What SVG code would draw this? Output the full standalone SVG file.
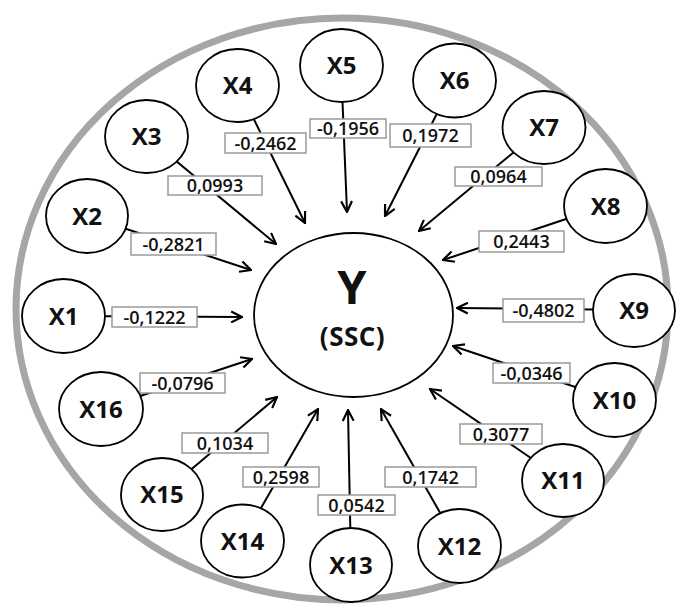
<svg xmlns="http://www.w3.org/2000/svg" width="681" height="608" viewBox="0 0 681 608">
<style>
.node{fill:#fff;stroke:#000;stroke-width:1.8}
.nt{font-family:"Open Sans","Liberation Sans",sans-serif;font-weight:700;font-size:24px;text-anchor:middle;fill:#111}
.edge{stroke:#000;stroke-width:2;fill:none;marker-end:url(#arr)}
.lb{fill:#fff;stroke:#9a9a9a;stroke-width:1.5}
.lt{font-family:"Open Sans","Liberation Sans",sans-serif;font-weight:600;font-size:18px;text-anchor:middle;fill:#111}
</style>
<defs>
<marker id="arr" viewBox="0 0 12 12" refX="11" refY="6" markerWidth="13" markerHeight="13" markerUnits="userSpaceOnUse" orient="auto">
<path d="M1,1 L11,6 L1,11" fill="none" stroke="#000" stroke-width="2"/>
</marker>
</defs>
<rect width="681" height="608" fill="#fff"/>
<ellipse cx="342" cy="309" rx="326" ry="291" fill="none" stroke="#a6a6a6" stroke-width="7"/>
<g id="connectors">
<line class="edge" x1="63" y1="316" x2="242" y2="317"/>
<line class="edge" x1="87" y1="216" x2="251" y2="270"/>
<line class="edge" x1="146" y1="136" x2="276" y2="244"/>
<line class="edge" x1="237" y1="85" x2="305" y2="223"/>
<line class="edge" x1="341" y1="65" x2="347" y2="212"/>
<line class="edge" x1="454" y1="80" x2="385" y2="216"/>
<line class="edge" x1="544" y1="127" x2="419" y2="231"/>
<line class="edge" x1="605" y1="206" x2="443" y2="260"/>
<line class="edge" x1="634" y1="310" x2="457" y2="308"/>
<line class="edge" x1="614" y1="400" x2="453" y2="346"/>
<line class="edge" x1="563" y1="480" x2="430" y2="389"/>
<line class="edge" x1="459" y1="546" x2="381" y2="409"/>
<line class="edge" x1="351" y1="565" x2="348" y2="410"/>
<line class="edge" x1="242" y1="541" x2="318" y2="409"/>
<line class="edge" x1="162" y1="494" x2="277" y2="397"/>
<line class="edge" x1="101" y1="409" x2="252" y2="359"/>
<g id="labels">
<rect class="lb" x="112" y="307" width="85" height="20"/><text class="lt" x="154.5" y="323.5">-0,1222</text>
<rect class="lb" x="131" y="233" width="85" height="22"/><text class="lt" x="173.5" y="250.5">-0,2821</text>
<rect class="lb" x="168" y="176" width="94" height="19"/><text class="lt" x="215" y="192">0,0993</text>
<rect class="lb" x="225" y="133" width="81" height="20"/><text class="lt" x="265.5" y="149.5">-0,2462</text>
<rect class="lb" x="310" y="119" width="76" height="19"/><text class="lt" x="348" y="135">-0,1956</text>
<rect class="lb" x="390" y="124" width="81" height="23"/><text class="lt" x="430.5" y="141.5">0,1972</text>
<rect class="lb" x="455" y="167" width="87" height="19"/><text class="lt" x="498.5" y="183">0,0964</text>
<rect class="lb" x="479" y="231" width="85" height="21"/><text class="lt" x="521.5" y="248">0,2443</text>
<rect class="lb" x="503" y="299" width="81" height="23"/><text class="lt" x="543.5" y="316.5">-0,4802</text>
<rect class="lb" x="493" y="363" width="77" height="20"/><text class="lt" x="531.5" y="379.5">-0,0346</text>
<rect class="lb" x="460" y="424" width="82" height="20"/><text class="lt" x="501" y="440.5">0,3077</text>
<rect class="lb" x="385" y="467" width="91" height="20"/><text class="lt" x="430.5" y="483.5">0,1742</text>
<rect class="lb" x="318" y="495" width="77" height="20"/><text class="lt" x="356.5" y="511.5">0,0542</text>
<rect class="lb" x="243" y="467" width="76" height="20"/><text class="lt" x="281" y="483.5">0,2598</text>
<rect class="lb" x="182" y="433" width="86" height="20"/><text class="lt" x="225" y="449.5">0,1034</text>
<rect class="lb" x="140" y="373" width="85" height="20"/><text class="lt" x="182.5" y="389.5">-0,0796</text>
</g>
</g>
<g id="Y"><ellipse class="node" cx="353.5" cy="315" rx="99.5" ry="82"/>
<text class="nt" x="352" y="304" style="font-size:47px">Y</text>
<text class="nt" x="352.5" y="346" style="font-size:26px;letter-spacing:0.5px">(SSC)</text></g>
<g id="X1"><ellipse class="node" cx="63.5" cy="316" rx="41.5" ry="37"/><text class="nt" x="63.5" y="325">X1</text></g>
<g id="X2"><ellipse class="node" cx="87" cy="216" rx="41" ry="37"/><text class="nt" x="87" y="225">X2</text></g>
<g id="X3"><ellipse class="node" cx="146.5" cy="136.5" rx="41.5" ry="36.5"/><text class="nt" x="146.5" y="145">X3</text></g>
<g id="X4"><ellipse class="node" cx="237.5" cy="85.5" rx="41.5" ry="36.5"/><text class="nt" x="237.5" y="94">X4</text></g>
<g id="X5"><ellipse class="node" cx="341.5" cy="65.5" rx="41.5" ry="36.5"/><text class="nt" x="341.5" y="74">X5</text></g>
<g id="X6"><ellipse class="node" cx="454.5" cy="80.5" rx="41.5" ry="37"/><text class="nt" x="454.5" y="89">X6</text></g>
<g id="X7"><ellipse class="node" cx="544" cy="127.5" rx="41.5" ry="36.5"/><text class="nt" x="544" y="136">X7</text></g>
<g id="X8"><ellipse class="node" cx="605.5" cy="206" rx="41.5" ry="37"/><text class="nt" x="605.5" y="215">X8</text></g>
<g id="X9"><ellipse class="node" cx="634" cy="310.5" rx="41" ry="36.5"/><text class="nt" x="634" y="319">X9</text></g>
<g id="X10"><ellipse class="node" cx="614.5" cy="400" rx="41.5" ry="37"/><text class="nt" x="614.5" y="409">X10</text></g>
<g id="X11"><ellipse class="node" cx="563" cy="480.5" rx="41" ry="36.5"/><text class="nt" x="563" y="489">X11</text></g>
<g id="X12"><ellipse class="node" cx="459.5" cy="546" rx="41.5" ry="37"/><text class="nt" x="459.5" y="555">X12</text></g>
<g id="X13"><ellipse class="node" cx="351" cy="565" rx="41" ry="37"/><text class="nt" x="351" y="574">X13</text></g>
<g id="X14"><ellipse class="node" cx="242.5" cy="541" rx="41.5" ry="36.5"/><text class="nt" x="242.5" y="550">X14</text></g>
<g id="X15"><ellipse class="node" cx="162" cy="494.5" rx="41" ry="36.5"/><text class="nt" x="162" y="503">X15</text></g>
<g id="X16"><ellipse class="node" cx="101" cy="409" rx="42" ry="37"/><text class="nt" x="101" y="418">X16</text></g>
</svg>
